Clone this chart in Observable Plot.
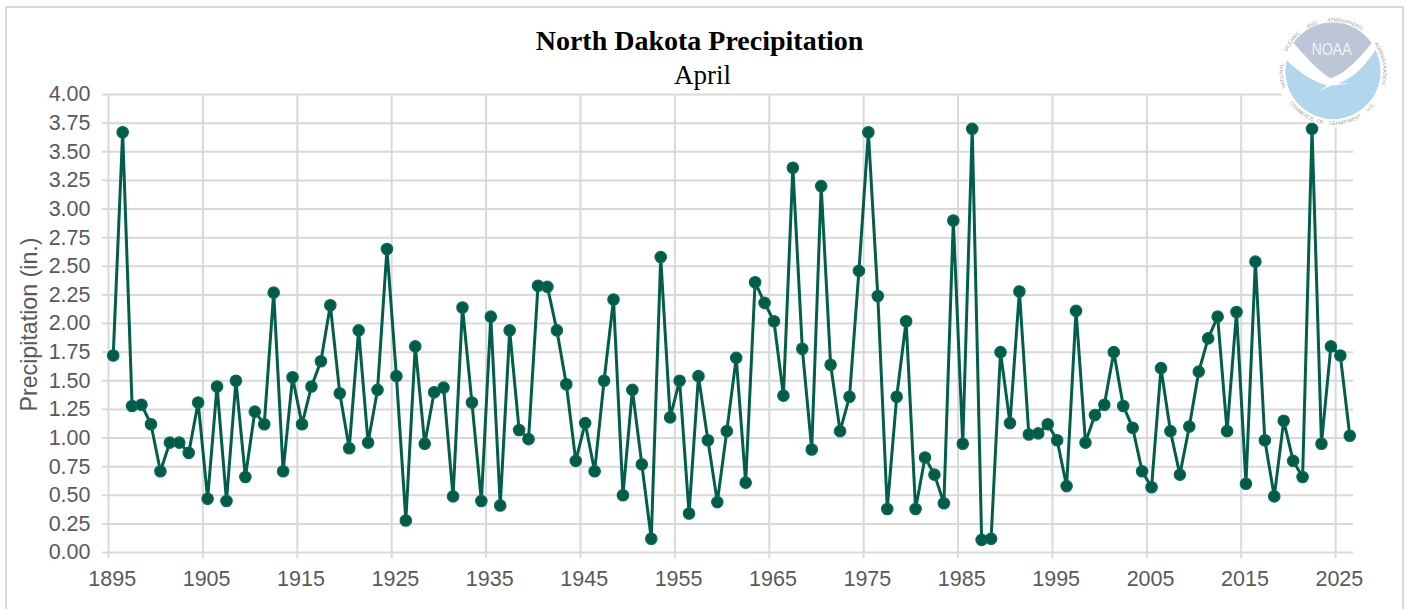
<!DOCTYPE html>
<html>
<head>
<meta charset="utf-8">
<script src="https://cdn.jsdelivr.net/npm/d3@7"></script>
<script src="https://cdn.jsdelivr.net/npm/@observablehq/plot@0.6"></script>
<style>
html,body{margin:0;padding:0;background:#fff;overflow:hidden}
#wrap{position:relative;width:1407px;height:609px;overflow:hidden}
#frame{position:absolute;left:5px;top:6px;width:1399px;height:640px;border:2px solid #d9d9d9;box-sizing:border-box;pointer-events:none}
.t{position:absolute;left:0;width:1399px;text-align:center;font-family:"Liberation Serif",serif;color:#000;white-space:nowrap}
#title{top:24px;font-size:28px;line-height:34px;font-weight:bold}
#sub{top:58px;font-size:27px;line-height:34px;left:3px}
svg{display:block}
</style>
</head>
<body>
<div id="wrap">
<div id="frame"></div>
<div id="chart"></div>
<div class="t" id="title">North Dakota Precipitation</div>
<div class="t" id="sub">April</div>
</div>
<script>
const startYear = 1895;
const precipitation = [
1.72,3.67,1.28,1.29,1.12,0.71,0.96,0.96,0.87,1.31,
0.47,1.45,0.45,1.50,0.66,1.23,1.12,2.27,0.71,1.53,
1.12,1.45,1.67,2.16,1.39,0.91,1.94,0.96,1.42,2.65,
1.54,0.28,1.80,0.95,1.40,1.44,0.49,2.14,1.31,0.45,
2.06,0.41,1.94,1.07,0.99,2.33,2.32,1.94,1.47,0.80,
1.13,0.71,1.50,2.21,0.50,1.42,0.77,0.12,2.58,1.18,
1.50,0.34,1.54,0.98,0.44,1.06,1.70,0.61,2.36,2.18,
2.02,1.37,3.36,1.78,0.90,3.20,1.64,1.06,1.36,2.46,
3.67,2.24,0.38,1.36,2.02,0.38,0.83,0.68,0.43,2.90,
0.95,3.70,0.11,0.12,1.75,1.13,2.28,1.03,1.04,1.12,
0.98,0.58,2.11,0.96,1.20,1.29,1.75,1.28,1.09,0.71,
0.57,1.61,1.06,0.68,1.10,1.58,1.87,2.06,1.06,2.10,
0.60,2.54,0.98,0.49,1.15,0.80,0.66,3.70,0.95,1.80,
1.72,1.02];
const years = precipitation.map((_, i) => startYear + i);
const yTicks = [0,0.25,0.5,0.75,1,1.25,1.5,1.75,2,2.25,2.5,2.75,3,3.25,3.5,3.75,4];
const xTicks = [1895,1905,1915,1925,1935,1945,1955,1965,1975,1985,1995,2005,2015,2025];
const sealTop = ["NATIONAL","OCEANIC","AND","ATMOSPHERIC","ADMINISTRATION"];
const sealBottom = ["U.S.","DEPARTMENT","OF","COMMERCE"];
const table = years.map((year, i) => ({x: year + 0.5, value: precipitation[i]}));

const gridColor = "#d9d9d9", textColor = "#595959", lineColor = "#025e4a";
const fontFamily = '"Liberation Sans", Arial, sans-serif';

function logoMark() {
  const ns = "http://www.w3.org/2000/svg";
  const g = d3.select(document.createElementNS(ns, "g")).attr("transform", "translate(1333,71.5)");
  g.append("circle").attr("r", 56).attr("fill", "#fff");
  const inner = g.append("g").style("filter", "blur(0.6px)");
  inner.append("circle").attr("r", 47.5).attr("fill", "#b2d7ec");
  inner.append("path").attr("d", "M-40,-28 A47.5,47.5 0 0 1 39,-28 C27,-14 14,1 -3,7 C-17,-2 -28,-16 -40,-28Z").attr("fill", "#bec5d7");
  inner.append("path").attr("d", "M-47,-12 L-40,-29 C-28,-16 -16,-1 -2,7 C14,1 27,-14 40,-30 L44,-24 C34,-8 22,6 5,12 L20,12 L-2,14 L-14,20 L-6,14 C-24,9 -38,-3 -47,-12Z").attr("fill", "#fff");
  inner.append("text").attr("x", -1.3).attr("y", -16.5).attr("text-anchor", "middle")
    .attr("font-family", fontFamily).attr("font-size", 16)
    .attr("textLength", 40).attr("lengthAdjust", "spacingAndGlyphs").attr("fill", "#f2f4f8").text("NOAA");
  // ring lettering of the seal: each word sits on its own short arc
  const defs = g.append("defs");
  const ring = (words, radius, centre, perChar, bottom, prefix) => {
    const total = words.reduce((s, w) => s + w.length + 1, -1);
    let at = -total / 2;
    words.forEach((w, i) => {
      const a0 = centre + at * perChar, a1 = centre + (at + w.length) * perChar;
      at += w.length + 1;
      const pt = a => [radius * Math.sin(a), -radius * Math.cos(a)];
      const [s, e] = bottom ? [pt(a1), pt(a0)] : [pt(a0), pt(a1)];
      const id = prefix + i;
      defs.append("path").attr("id", id).attr("d", `M${s} A${radius},${radius} 0 0 ${bottom ? 0 : 1} ${e}`);
      inner.append("text").attr("font-family", fontFamily).attr("font-size", 5).attr("fill", "#a0a0a0")
        .append("textPath").attr("href", "#" + id).attr("startOffset", "50%").attr("text-anchor", "middle").text(w);
    });
  };
  ring(sealTop, 50, 0, 0.085, false, "sealT");
  ring(sealBottom, 53.5, Math.PI, 0.07, true, "sealB");
  return g.node();
}

const chart = Plot.plot({
  width: 1407, height: 609,
  marginTop: 94, marginBottom: 57, marginLeft: 108, marginRight: 53,
  style: {background: "transparent", fontFamily},
  x: {type: "linear", domain: [1895, 2027]},
  y: {domain: [0, 4]},
  marks: [
    Plot.ruleY(yTicks, {x1: 1895, x2: 2026.9, stroke: gridColor, strokeWidth: 2, strokeOpacity: 1}),
    Plot.ruleX(xTicks, {y1: 0, y2: 4, stroke: gridColor, strokeWidth: 2, strokeOpacity: 1}),
    Plot.axisY(yTicks, {
      tickSize: 6, tickPadding: 12, stroke: gridColor, strokeWidth: 2, strokeOpacity: 1,
      tickFormat: d3.format(".2f"), fill: textColor, fontSize: 21.5, label: null
    }),
    Plot.text(["Precipitation (in.)"], {frameAnchor: "left", textAnchor: "middle", rotate: -90, dx: -79, dy: 1, fontSize: 23.2, fill: textColor}),
    Plot.axisX(xTicks, {tickSize: 6, stroke: gridColor, strokeWidth: 2, strokeOpacity: 1, tickFormat: () => "", label: null}),
    Plot.axisX(xTicks.map(d => d + 0.5), {tickSize: 0, tickPadding: 18, dx: -1, tickFormat: d => String(d - 0.5), fill: textColor, fontSize: 21.5, label: null, strokeOpacity: 0}),
    logoMark,
    Plot.line(table, {x: "x", y: "value", stroke: lineColor, strokeWidth: 3, curve: "linear"}),
    Plot.dot(table, {x: "x", y: "value", r: 5.7, fill: "#005c48", stroke: "#0a6a55", strokeWidth: 1.2})
  ]
});
document.getElementById("chart").appendChild(chart);
</script>
</body>
</html>
